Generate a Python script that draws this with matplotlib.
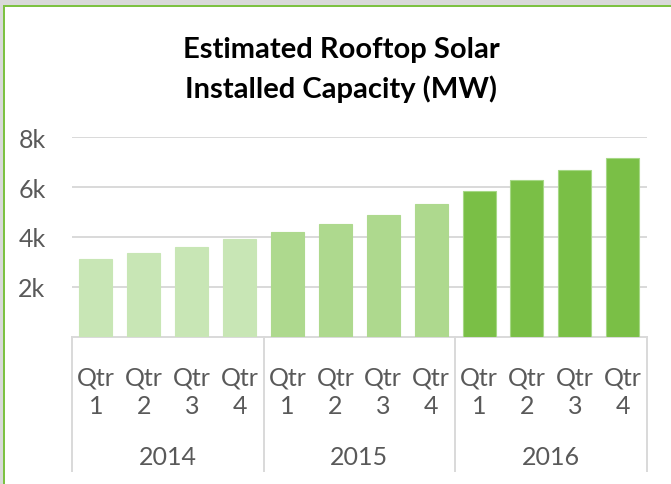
import matplotlib.pyplot as plt
import matplotlib.patches as patches
import matplotlib.transforms as mtransforms
import numpy as np

plt.rcParams['font.family'] = ['Lato', 'DejaVu Sans']

# data
years = ['2014', '2015', '2016']
quarters = ['Qtr\n1', 'Qtr\n2', 'Qtr\n3', 'Qtr\n4']
cap_2014 = [3110, 3350, 3590, 3920]
cap_2015 = [4180, 4520, 4880, 5320]
cap_2016 = [5830, 6290, 6670, 7160]
yticks = [2000, 4000, 6000, 8000]
ytick_labels = ['2k', '4k', '6k', '8k']

year_colors = ['#c8e6b5', '#aed98e', '#7abf46']
grid_col = '#d9d9d9'
text_col = '#595959'

W, H = 671, 485
fig = plt.figure(figsize=(W / 100, H / 100), dpi=100)
fig.patch.set_facecolor('white')

# outer frame: gray band + green border (top and left only visible)
def px_rect(x0, y0, w, h, color):
    fig.add_artist(patches.Rectangle((x0 / W, 1 - (y0 + h) / H), w / W, h / H,
                                     transform=fig.transFigure, color=color, lw=0))

px_rect(0, 0, W, 6, '#d9d9d9')
px_rect(0, 0, 3, H, '#d9d9d9')
px_rect(3, 6, W - 3, 2.3, '#7dc242')
px_rect(3, 6, 2.4, H - 6, '#7dc242')

left, right = 72, 646.7
top, base = 138.3, 337.5
ax = fig.add_axes([left / W, 1 - base / H, (right - left) / W, (base - top) / H])

all_vals = [cap_2014, cap_2015, cap_2016]
n_q = len(quarters)
for yi, vals in enumerate(all_vals):
    xs = np.arange(n_q) + yi * n_q
    ec = '#a6d886' if yi == 2 else year_colors[yi]
    ax.bar(xs, vals, width=0.69, color=year_colors[yi], edgecolor=ec, linewidth=0.8, zorder=3)

n = n_q * len(years)
ax.set_xlim(-0.5, n - 0.5)
ax.set_ylim(0, 8000)
ax.set_yticks(yticks)
ax.set_yticklabels(ytick_labels, fontsize=18, color=text_col)
ax.tick_params(axis='y', length=0, pad=19)
ax.set_xticks([])
ax.grid(axis='y', color=grid_col, lw=1.4, zorder=0)
for s in ['top', 'right', 'left']:
    ax.spines[s].set_visible(False)
ax.spines['bottom'].set_color(grid_col)
ax.spines['bottom'].set_linewidth(1.4)

trans = mtransforms.blended_transform_factory(ax.transData, ax.transAxes)
h_ax = base - top
def frac(py):
    return (base - py) / h_ax

# category labels
for i in range(n):
    q, num = quarters[i % n_q].split('\n')
    ax.text(i, frac(378), q, transform=trans, ha='center', va='center',
            fontsize=18, color=text_col)
    ax.text(i, frac(407), num, transform=trans, ha='center', va='center',
            fontsize=18, color=text_col)
for yi, yr in enumerate(years):
    ax.text(yi * n_q + (n_q - 1) / 2, frac(458), yr, transform=trans, ha='center',
            va='center', fontsize=18, color=text_col)

# group separators
for b in range(len(years) + 1):
    xb = b * n_q - 0.5
    ax.plot([xb, xb], [0, frac(472)], transform=trans, color=grid_col, lw=1.4,
            clip_on=False)

fig.text(341 / W, 1 - 50 / H, 'Estimated Rooftop Solar', ha='center', va='center',
         fontsize=21, fontweight='bold', color='black')
fig.text(341 / W, 1 - 89 / H, 'Installed Capacity (MW)', ha='center', va='center',
         fontsize=21, fontweight='bold', color='black')

fig.savefig('out.png', dpi=100)
